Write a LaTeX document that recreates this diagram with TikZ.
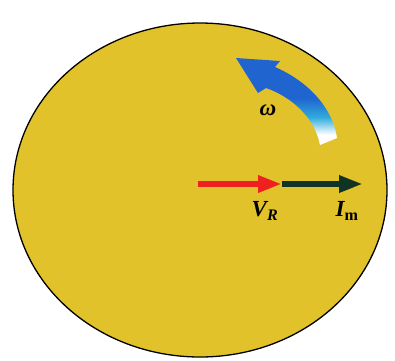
\documentclass[tikz,border=0pt]{standalone}
\usepackage{fontspec}
\setmainfont{Liberation Serif}
\usetikzlibrary{arrows.meta}
\definecolor{disc}{RGB}{226,194,42}
\definecolor{vred}{RGB}{238,32,32}
\definecolor{igreen}{RGB}{16,52,36}
\definecolor{wblue}{RGB}{32,100,208}
\definecolor{wcyan}{RGB}{48,170,220}
\pgfdeclareverticalshading{omegashade}{100bp}{color(0bp)=(white); color(31bp)=(white); color(41bp)=(wcyan); color(52bp)=(wblue); color(100bp)=(wblue)}
\tikzset{
  phasor/.style={line width=6.5pt, -{Triangle[length=24pt,width=16pt]}, shorten >=0pt},
  lbl/.style={inner sep=0pt, font=\fontsize{23}{27}\selectfont\bfseries\itshape},
}
\begin{document}
\begin{tikzpicture}[x=1pt,y=-1pt]
\useasboundingbox (0,0) rectangle (395,360);
% disc
\draw[line width=1.3pt, fill=disc] (200,190) ellipse [x radius=187, y radius=167];
% rotation arrow omega
\shade[shading=omegashade]
  (236,58) -- (280,61) -- (275,67)
  .. controls (305,80) and (332,105) .. (337,138)
  -- (320,145)
  .. controls (315,118) and (292,97) .. (266,88)
  -- (258,93) -- cycle;
\node[lbl] (w) at (268,110) {ω};
% phasors
\coordinate (o) at (198,184);
\coordinate (vr) at (282,184);
\coordinate (im) at (363,184);
\draw[phasor, igreen] (vr) -- (im);
\draw[phasor, vred] (o) -- (vr);
\node[lbl] (vrl) at (265,211) {V\textsubscript{R}};
\node[lbl] (iml) at (347,211) {I\textsubscript{\upshape m}};
\end{tikzpicture}
\end{document}
